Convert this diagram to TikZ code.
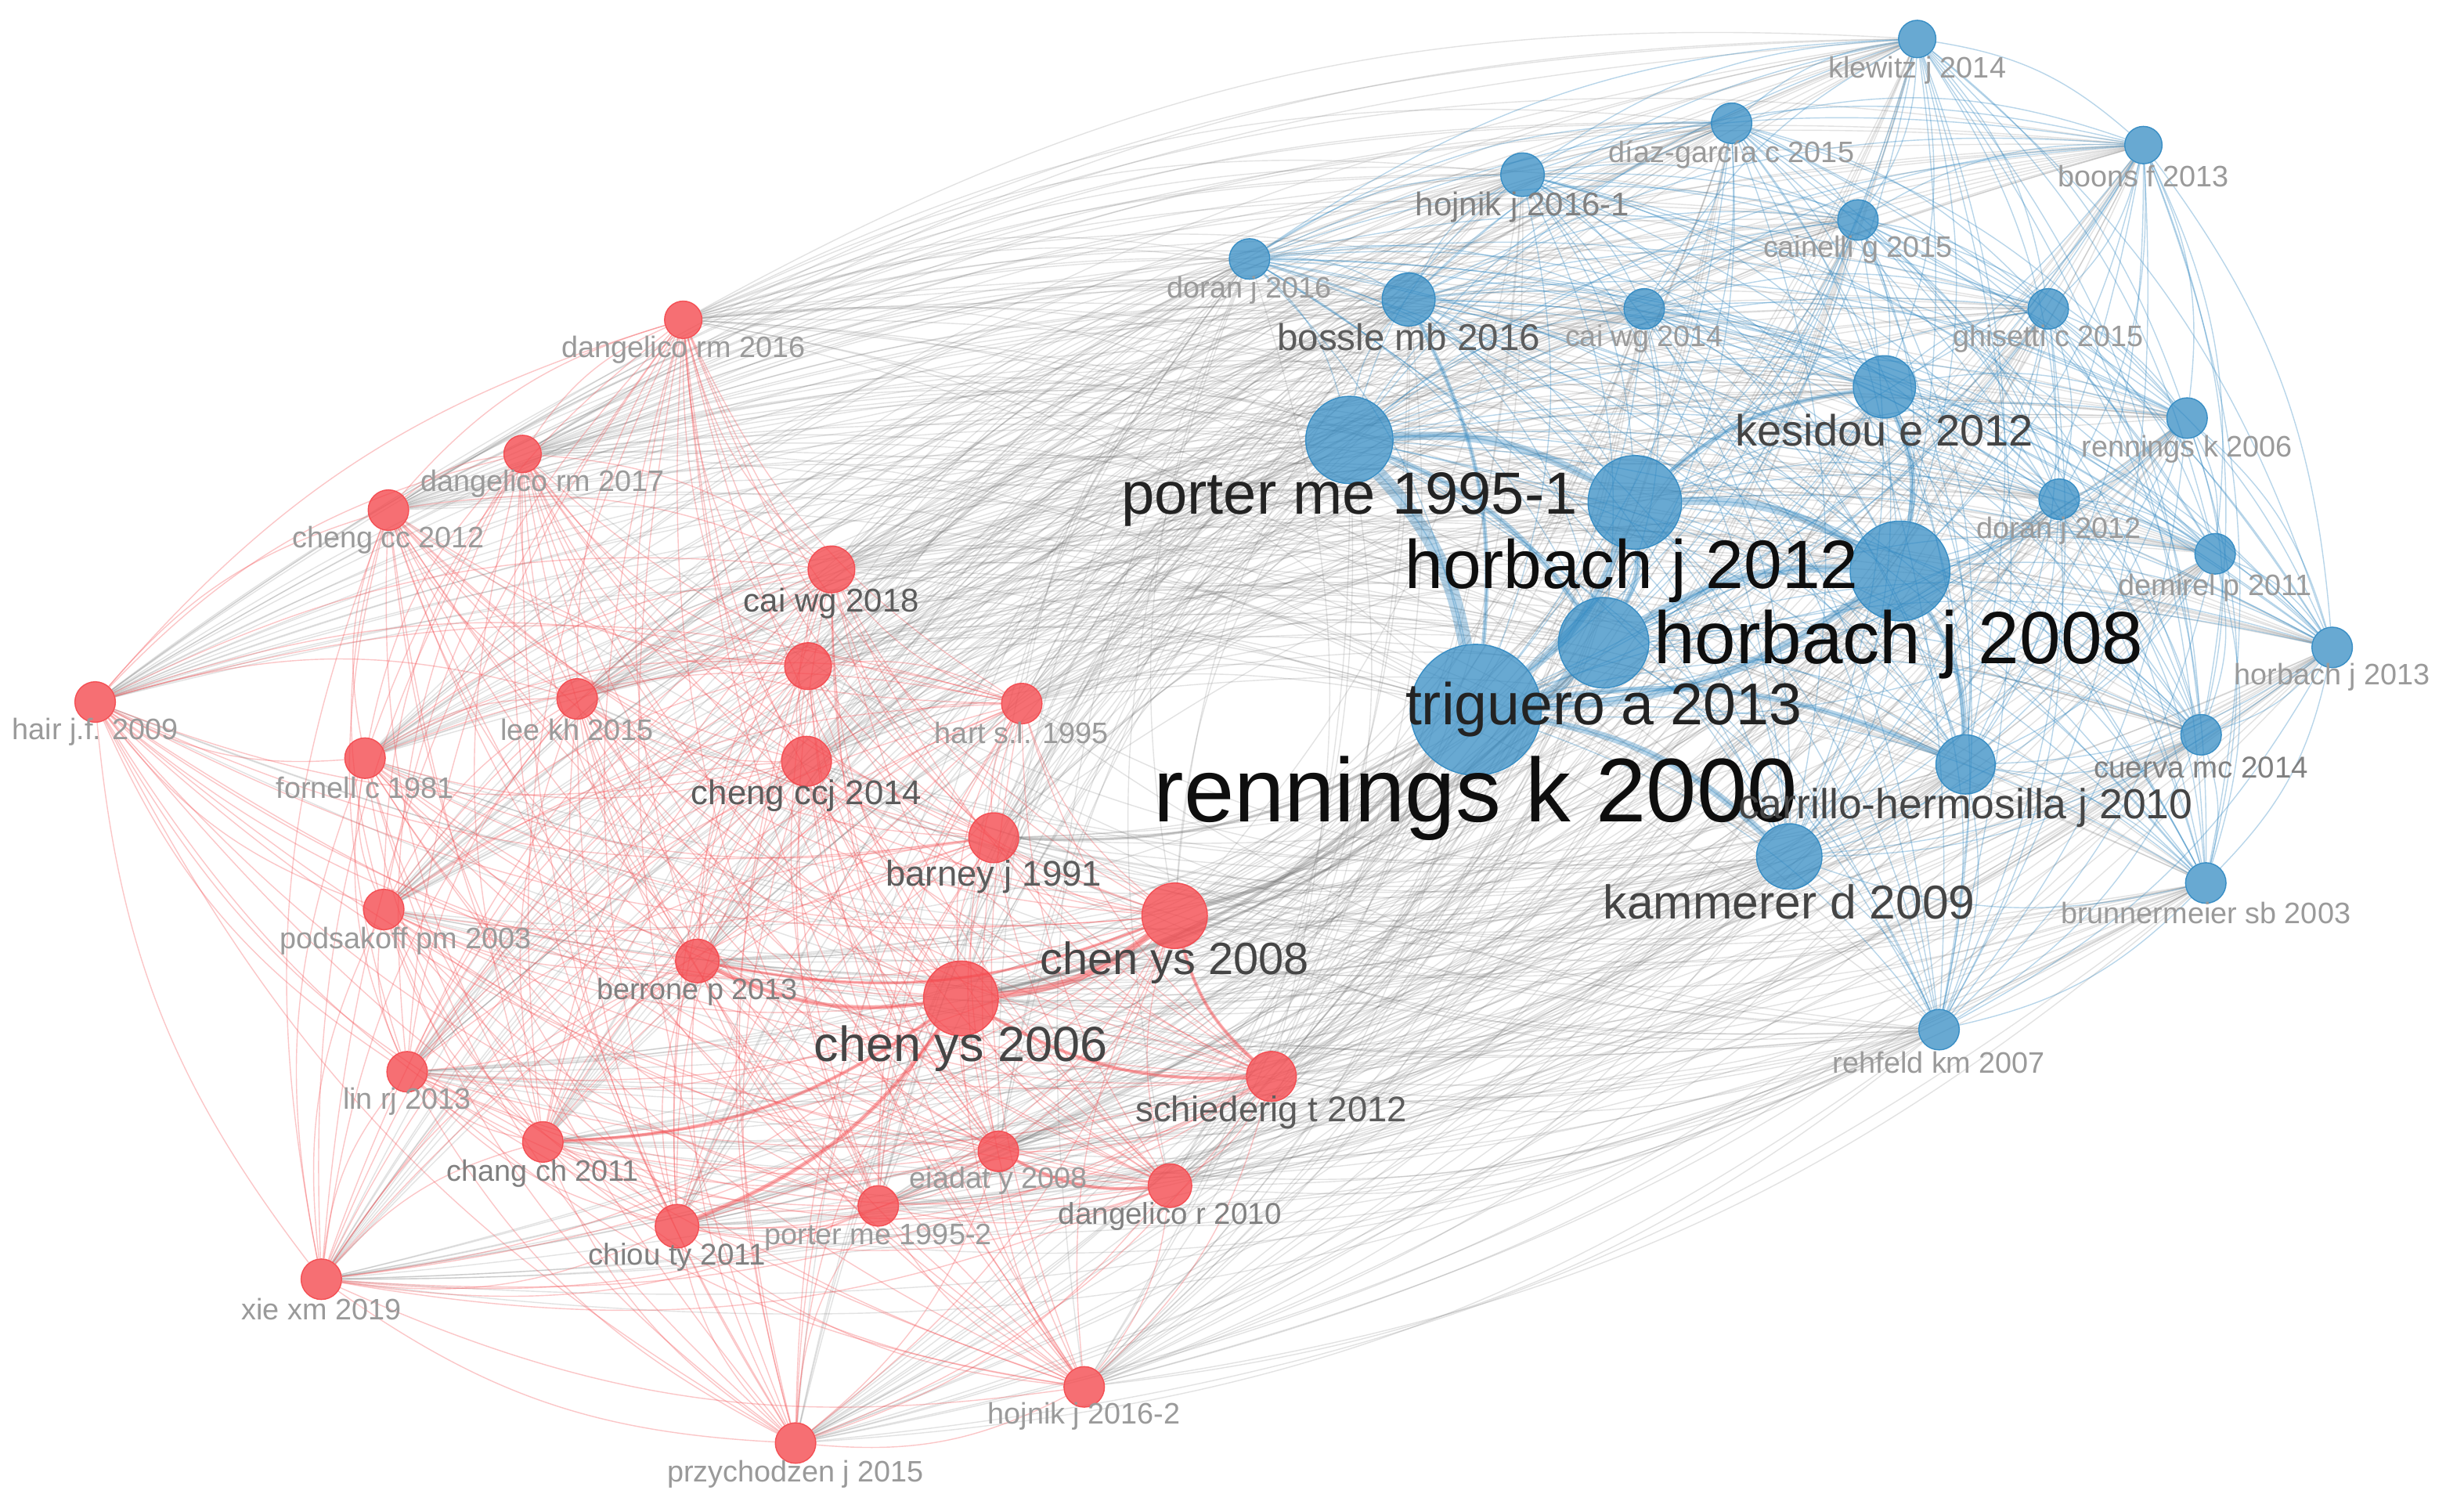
\documentclass[tikz,border=0pt]{standalone}
\usepackage{fontspec}
\setmainfont{Liberation Sans}
\usetikzlibrary{calc}
\pgfdeclarelayer{bg}
\pgfdeclarelayer{edges}
\pgfsetlayers{bg,edges,main}
\definecolor{redN}{HTML}{F4474C}
\definecolor{blueN}{HTML}{2E88C2}
\definecolor{redE}{HTML}{F54E52}
\definecolor{blueE}{HTML}{2F86C0}
\definecolor{greyE}{HTML}{727272}
\definecolor{labS}{HTML}{9A9A9A}
\definecolor{labG}{HTML}{808080}
\definecolor{labM}{HTML}{5C5C5C}
\definecolor{labD}{HTML}{454545}
\definecolor{labKK}{HTML}{232323}
\definecolor{labK}{HTML}{0E0E0E}
\tikzset{
  rnode/.style={circle, inner sep=0pt, minimum size={#1*0.04cm}, fill=redN, fill opacity=0.78, draw=redN, draw opacity=0.9, line width=0.4pt},
  bnode/.style={circle, inner sep=0pt, minimum size={#1*0.04cm}, fill=blueN, fill opacity=0.72, draw=blueN, draw opacity=0.9, line width=0.4pt},
  lab/.style={inner sep=0pt, anchor=center},
  gedge/.style={draw=greyE, draw opacity=0.2, line width=0.4pt},
  redge/.style={draw=redE, draw opacity=0.32, line width=0.4pt},
  bedge/.style={draw=blueE, draw opacity=0.34, line width=0.4pt},
  bthick/.style={draw=blueE, draw opacity=0.35, line width=#1},
  rthick/.style={draw=redE, draw opacity=0.45, line width=#1},
  gthick/.style={draw=greyE, draw opacity=0.3, line width=#1}
}
\newcommand\vosedge[3]{%
  \draw[#3] let \p1=(#1), \p2=(#2),
    \n1={((((\y1)-(\y2))/100*(((\x1)+(\x2))/200-4.552)+((\x2)-(\x1))/100*(((\y1)+(\y2))/200+2.731))>0) ? 16 : -16}
    in (#1) to[bend left=\n1] (#2);}
\def\Rlist{R1,R2,R3,R4,R5,R6,R7,R8,R9,R10,R11,R12,R13,R14,R15,R16,R17,R18,R19,R20,R21,R22,R23,R24,R25}
\def\Blist{B1,B2,B3,B4,B5,B6,B7,B8,B9,B10,B11,B12,B13,B14,B15,B16,B17,B18,B19,B20,B21,B22,B23,B24}
\begin{document}
\begin{tikzpicture}[x=0.02cm,y=-0.02cm]
\useasboundingbox (0,0) rectangle (1568,969);
\begin{pgfonlayer}{bg}
\fill[white] (0,0) rectangle (1568,969);
\end{pgfonlayer}
% nodes
\foreach \nm/\xx/\yy/\rad in {R1/438/205/12, R2/335/291/12, R3/249/327/13, R4/533/365/15, R5/61/450/13, R6/370/448/13, R7/518/427/15, R8/655/451/13, R9/234/486/13, R10/517/488/16, R11/637/537/16, R12/246/583/13, R13/753/587/21, R14/447/616/14, R15/616/640/24, R16/815/690/16, R17/261/687/13, R18/348/732/13, R19/640/738/13, R20/750/760/14, R21/563/773/13, R22/434/786/14, R23/206/820/13, R24/695/889/13, R25/510/925/13}
  {\node[rnode=\rad] (\nm) at (\xx,\yy) {};}
\foreach \nm/\xx/\yy/\rad in {B1/1229/25/12, B2/1110/79/13, B3/1374/93/12, B4/976/112/14, B5/1191/141/13, B6/801/166/13, B7/903/192/17, B8/1054/198/13, B9/1313/198/13, B10/1208/248/20, B11/1402/268/13, B12/865/282/28, B13/1320/320/13, B14/1048/322/30, B15/1218/366/32, B16/1028/412/29, B17/946/455/42, B18/1420/355/13, B19/1495/415/13, B20/1411/471/13, B21/1260/490/19, B22/1147/549/21, B23/1414/566/13, B24/1243/660/13}
  {\node[bnode=\rad] (\nm) at (\xx,\yy) {};}
% edges
\begin{pgfonlayer}{edges}
\foreach \a in \Rlist {\foreach \b in \Blist {\vosedge{\a}{\b}{gedge}}}
\foreach \a [count=\i] in \Rlist {\foreach \b [count=\j] in \Rlist {\ifnum\j>\i\relax\vosedge{\a}{\b}{redge}\fi}}
\foreach \a [count=\i] in \Blist {\foreach \b [count=\j] in \Blist {\ifnum\j>\i\relax\vosedge{\a}{\b}{bedge}\fi}}
\foreach \a/\b/\w in {B12/B17/5pt, B12/B14/3pt, B14/B15/3pt, B14/B17/3pt, B15/B16/3pt, B16/B17/4pt, B15/B17/3pt, B17/B22/2.5pt, B17/B21/2pt, B10/B15/2pt, B14/B16/2pt, B7/B17/1.5pt, B15/B21/2pt, B10/B14/1.5pt, B12/B16/2pt}
  {\vosedge{\a}{\b}{bthick=\w}}
\foreach \a/\b/\w in {R13/R15/2.5pt, R15/R22/1.5pt, R14/R15/1.5pt, R13/R16/1.2pt, R15/R16/1.2pt, R19/R20/1.2pt, R15/R18/1.2pt, R13/R14/1pt}
  {\vosedge{\a}{\b}{rthick=\w}}
\foreach \a/\b/\w in {R15/B17/1.5pt, R13/B17/1.5pt, R15/B16/1pt, R11/B17/1pt}
  {\vosedge{\a}{\b}{gthick=\w}}
\end{pgfonlayer}
% labels
\foreach \nm/\xx/\yy/\fs/\col/\txt in {
R1/438/224/10.8/labS/dangelico rm 2016,
R2/348/310/10.8/labS/dangelico rm 2017,
R3/249/346/10.8/labS/cheng cc 2012,
R4/533/387/12/labM/cai wg 2018,
R5/61/469/10.8/labS/hair j.f. 2009,
R6/370/468/10.8/labS/lee kh 2015,
R8/655/470/10.8/labS/hart s.l. 1995,
R9/234/505/10.8/labS/fornell c 1981,
R10/517/510/12.5/labM/cheng ccj 2014,
R11/637/562/13/labM/barney j 1991,
R12/260/603/10.8/labS/podsakoff pm 2003,
R13/753/617/16.5/labD/chen ys 2008,
R14/447/636/10.8/labG/berrone p 2013,
R15/616/672/18/labD/chen ys 2006,
R16/815/713/13/labM/schiederig t 2012,
R17/261/706/10.8/labS/lin rj 2013,
R18/348/752/10.8/labG/chang ch 2011,
R19/640/757/10.8/labS/eiadat y 2008,
R20/750/780/11/labG/dangelico r 2010,
R21/563/793/10.8/labS/porter me 1995-2,
R22/434/806/11/labG/chiou ty 2011,
R23/206/839/10.8/labS/xie xm 2019,
R24/695/908/10.8/labS/hojnik j 2016-2,
R25/510/945/10.8/labS/przychodzen j 2015,
B1/1229/45/10.8/labS/klewitz j 2014,
B2/1110/99/10.8/labS/díaz-garcía c 2015,
B3/1374/113/10.8/labS/boons f 2013,
B4/976/133/12/labG/hojnik j 2016-1,
B5/1191/160/10.8/labS/cainelli g 2015,
B6/801/186/10.8/labS/doran j 2016,
B7/903/216/13.6/labM/bossle mb 2016,
B8/1054/217/10.8/labS/cai wg 2014,
B9/1313/217/10.8/labS/ghisetti c 2015,
B10/1208/276/16/labD/kesidou e 2012,
B11/1402/288/10.8/labS/rennings k 2006,
B12/865/320/21.7/labKK/porter me 1995-1,
B13/1320/340/10.8/labS/doran j 2012,
B14/1046/366/25/labK/horbach j 2012,
B15/1217/413/27/labK/horbach j 2008,
B16/1028/455/21.5/labKK/triguero a 2013,
B17/946/512/33/labK/rennings k 2000,
B18/1420/377/10.8/labS/demirel p 2011,
B19/1495/434/10.8/labS/horbach j 2013,
B20/1411/492/11/labG/cuerva mc 2014,
B21/1260/518/15.3/labD/carrillo-hermosilla j 2010,
B22/1147/578/17.3/labD/kammerer d 2009,
B23/1414/585/10.8/labS/brunnermeier sb 2003,
B24/1243/681/10.8/labS/rehfeld km 2007}
  {\node[lab, text=\col, font=\fontsize{\fs}{\fs}\selectfont] (L\nm) at (\xx,\yy) {\txt};}
\end{tikzpicture}
\end{document}
